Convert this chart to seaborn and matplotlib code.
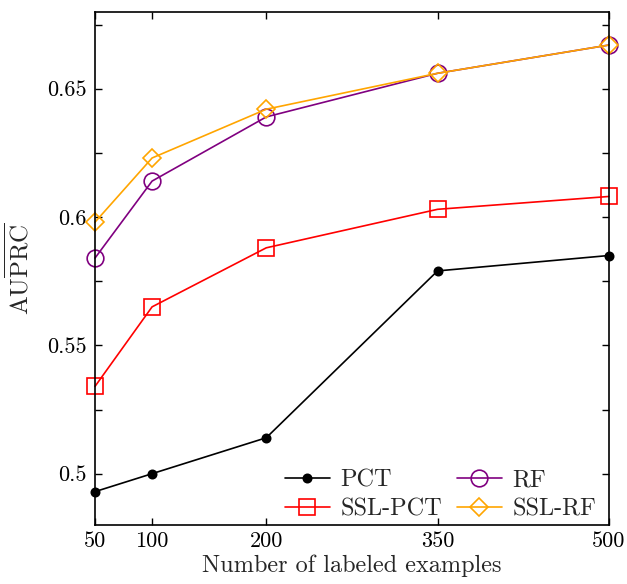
import matplotlib
matplotlib.use("Agg")
import matplotlib.pyplot as plt
import seaborn as sns
import pandas as pd
from matplotlib.ticker import FixedLocator, FixedFormatter, MultipleLocator

sns.set_theme(style="ticks")
plt.rcParams['font.family'] = 'serif'
plt.rcParams['font.serif'] = ['cmr10']
plt.rcParams['mathtext.fontset'] = 'cm'
plt.rcParams['axes.formatter.use_mathtext'] = True

n_labeled = [50, 100, 200, 350, 500]
pct = [0.493, 0.500, 0.514, 0.579, 0.585]
ssl_pct = [0.534, 0.565, 0.588, 0.603, 0.608]
rf = [0.584, 0.614, 0.639, 0.656, 0.667]
ssl_rf = [0.598, 0.623, 0.642, 0.656, 0.667]
series_names = ["PCT", "SSL-PCT", "RF", "SSL-RF"]
ytick_vals = [0.5, 0.55, 0.6, 0.65]
ytick_labels = ["0.5", "0.55", "0.6", "0.65"]

fig = plt.figure(figsize=(6.27, 5.84), dpi=100)
ax = fig.add_axes([0.1515, 0.101, 0.8195, 0.879])

styles = {
    "PCT": dict(color="black", marker="o", markersize=6, markerfacecolor="black", markeredgecolor="black"),
    "SSL-PCT": dict(color="#ff0000", marker="s", markersize=12, markerfacecolor="none", markeredgecolor="#ff0000"),
    "RF": dict(color="#800080", marker="o", markersize=12, markerfacecolor="none", markeredgecolor="#800080"),
    "SSL-RF": dict(color="#ffa500", marker="D", markersize=9, markerfacecolor="none", markeredgecolor="#ffa500"),
}
values = {"PCT": pct, "SSL-PCT": ssl_pct, "RF": rf, "SSL-RF": ssl_rf}

for name in series_names:
    df = pd.DataFrame({"x": n_labeled, "y": values[name]})
    sns.lineplot(data=df, x="x", y="y", ax=ax, label=name, linewidth=1.2,
                 markeredgewidth=1.2, clip_on=False, **styles[name])

ax.set_xlim(50, 500)
ax.set_ylim(0.48, 0.68)
ax.xaxis.set_major_locator(FixedLocator(n_labeled))
ax.set_xticklabels([str(v) for v in n_labeled])
ax.yaxis.set_major_locator(FixedLocator(ytick_vals))
ax.yaxis.set_major_formatter(FixedFormatter(ytick_labels))
ax.yaxis.set_minor_locator(MultipleLocator(0.025))

ax.tick_params(axis='both', which='both', direction='in', top=True, right=True,
               length=5, width=1.0, labelsize=16, colors='black')
ax.tick_params(axis='x', pad=5)
ax.tick_params(axis='y', pad=6)
for s in ax.spines.values():
    s.set_linewidth(1.2)
    s.set_color('black')

ax.set_xlabel("Number of labeled examples", fontsize=17.5, labelpad=2)
ax.set_ylabel(r"$\mathrm{AU\overline{PRC}}$", fontsize=18, labelpad=10)

ax.legend(loc='lower right', bbox_to_anchor=(0.976, 0.008), ncol=2, frameon=False, fontsize=17.5,
          handlelength=1.85, handletextpad=0.45, columnspacing=0.6,
          labelspacing=0.3, borderpad=0, borderaxespad=0)

fig.savefig("out.png", dpi=100)
